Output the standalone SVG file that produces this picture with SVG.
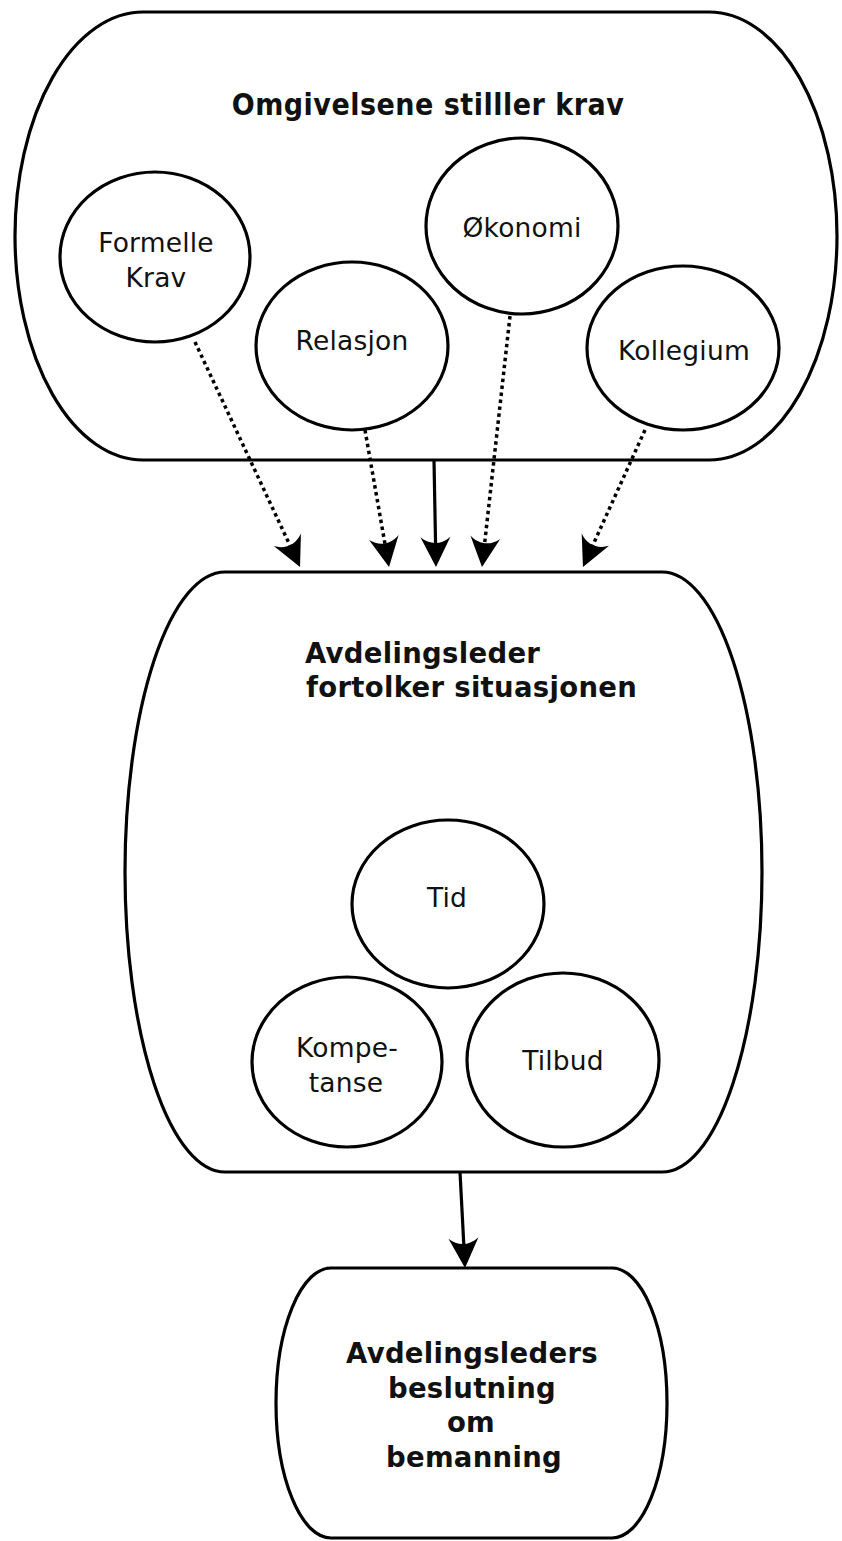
<svg xmlns="http://www.w3.org/2000/svg" width="842" height="1541" viewBox="0 0 842 1541">
<style>
.shape{fill:#fff;stroke:#000;stroke-width:3.2}
.t{font-family:"DejaVu Sans","Liberation Sans",sans-serif;font-size:26.5px;letter-spacing:0.2px;text-anchor:middle;fill:#111}
.b{font-family:"DejaVu Sans","Liberation Sans",sans-serif;font-size:27.5px;font-weight:bold;letter-spacing:0.3px;fill:#111}
.c{font-family:"DejaVu Sans Condensed","DejaVu Sans","Liberation Sans",sans-serif;font-stretch:condensed;font-size:30px;font-weight:bold;letter-spacing:0.5px;text-anchor:middle;fill:#111}
.dot{fill:none;stroke:#000;stroke-width:3.5;stroke-dasharray:3.5,3.5}
.sol{fill:none;stroke:#000;stroke-width:3.2}
</style>
<defs>
<marker id="ah" markerUnits="userSpaceOnUse" markerWidth="34" markerHeight="34" viewBox="-22 -17 34 34" refX="0" refY="0" orient="auto">
<path d="M10,0 L-20,-15 C-12,-6 -12,6 -20,15 Z" fill="#000"/>
</marker>
</defs>
<rect width="842" height="1541" fill="#fff"/>
<g id="omgivelser">
<rect class="shape" x="15" y="12" width="822" height="448" rx="128" ry="224"/>
<text class="c" x="428" y="115">Omgivelsene stilller krav</text>
</g>
<g id="formelle">
<ellipse class="shape" cx="155" cy="257" rx="95" ry="85"/>
<text class="t" x="156" y="252">Formelle</text>
<text class="t" x="156" y="287">Krav</text>
</g>
<g id="relasjon">
<ellipse class="shape" cx="352" cy="346" rx="96" ry="84"/>
<text class="t" x="352" y="350">Relasjon</text>
</g>
<g id="okonomi">
<ellipse class="shape" cx="522" cy="226" rx="96" ry="88"/>
<text class="t" x="522" y="237">Økonomi</text>
</g>
<g id="kollegium">
<ellipse class="shape" cx="683" cy="348" rx="96" ry="82"/>
<text class="t" x="684" y="360">Kollegium</text>
</g>
<g id="avdelingsleder">
<rect class="shape" x="125" y="572" width="637" height="600" rx="100" ry="300"/>
<text class="b" x="305" y="663">Avdelingsleder</text>
<text class="b" x="306" y="697">fortolker situasjonen</text>
</g>
<g id="tid">
<ellipse class="shape" cx="448" cy="904" rx="96" ry="84"/>
<text class="t" x="447" y="907">Tid</text>
</g>
<g id="kompetanse">
<ellipse class="shape" cx="347" cy="1062" rx="95" ry="85"/>
<text class="t" x="347" y="1057">Kompe-</text>
<text class="t" x="346" y="1092">tanse</text>
</g>
<g id="tilbud">
<ellipse class="shape" cx="563" cy="1060" rx="96" ry="87"/>
<text class="t" x="563" y="1070">Tilbud</text>
</g>
<g id="beslutning">
<rect class="shape" x="276" y="1268" width="391" height="270" rx="55" ry="135"/>
<text class="b" x="472" y="1363" text-anchor="middle">Avdelingsleders</text>
<text class="b" x="472" y="1398" text-anchor="middle">beslutning</text>
<text class="b" x="471" y="1432" text-anchor="middle">om</text>
<text class="b" x="474" y="1467" text-anchor="middle">bemanning</text>
</g>
<g id="connectors">
<path class="dot" d="M195,342 L295.8,557.9" marker-end="url(#ah)"/>
<path class="dot" d="M365,430 L387.3,557.2" marker-end="url(#ah)"/>
<path class="sol" d="M434,460 L435.8,557" marker-end="url(#ah)"/>
<path class="dot" d="M510,316 L483.1,557.1" marker-end="url(#ah)"/>
<path class="dot" d="M645,430 L587.1,557.9" marker-end="url(#ah)"/>
<path class="sol" d="M460,1172 L464.5,1258" marker-end="url(#ah)"/>
</g>
</svg>
